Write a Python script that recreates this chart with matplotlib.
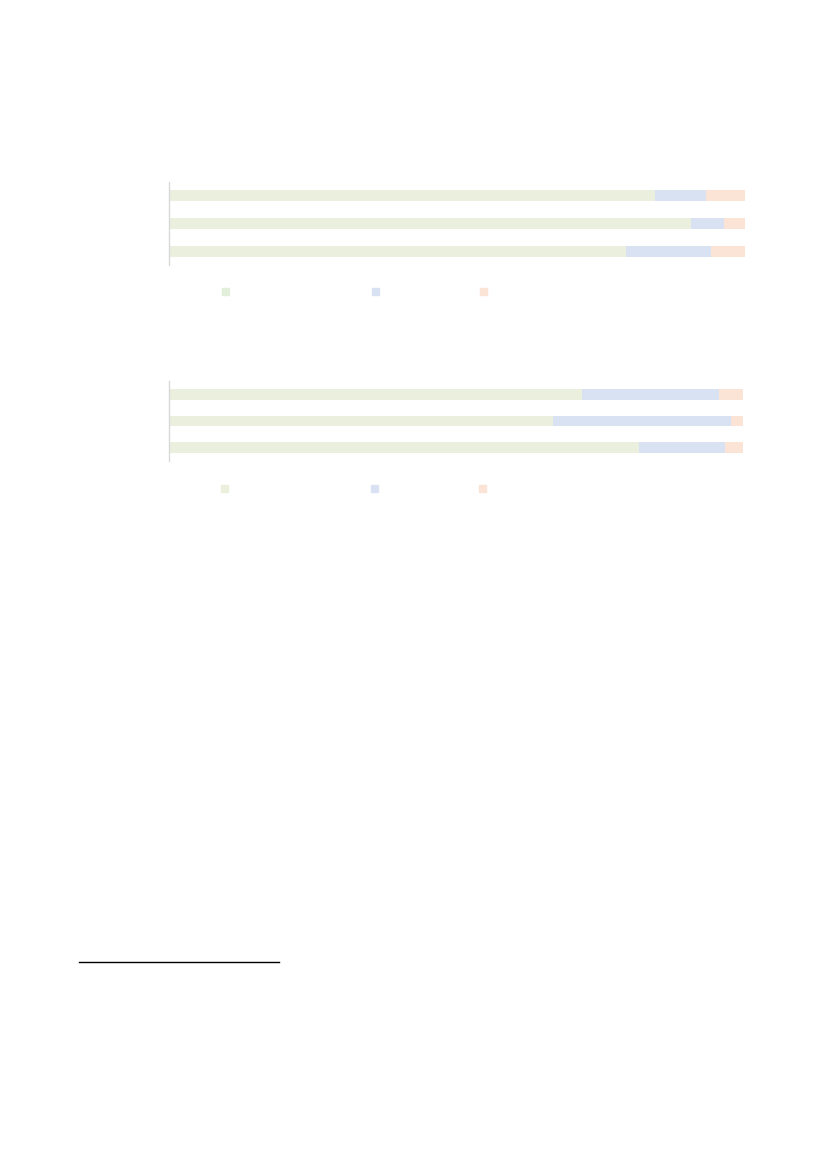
import matplotlib
matplotlib.use("Agg")
import matplotlib.pyplot as plt
from matplotlib.patches import Rectangle
from matplotlib.lines import Line2D

W, H = 829, 1167

# data (percent shares, top bar first)
cats = ["a", "b", "c"]
top_green = [84.4, 90.6, 79.4]
top_blue = [8.8, 5.7, 14.7]
top_orange = [6.8, 3.7, 5.9]

bot_green = [72.0, 66.9, 81.9]
bot_blue = [23.8, 31.0, 15.0]
bot_orange = [4.2, 2.1, 3.1]

green = "#ebf0de"
blue = "#d9e2f3"
orange = "#fbe3d5"
green_leg = "#e2efda"

fig = plt.figure(figsize=(W / 100, H / 100), dpi=100)


def px_axes(x0, x1, y0, y1):
    # pixel box (top-left origin) -> figure axes
    return fig.add_axes([x0 / W, 1 - y1 / H, (x1 - x0) / W, (y1 - y0) / H])


def stacked(ax, g, b, o, height):
    pos = list(range(len(cats)))
    ax.barh(pos, g, height=height, color=green)
    left = [gg for gg in g]
    ax.barh(pos, b, left=left, height=height, color=blue)
    left = [gg + bb for gg, bb in zip(g, b)]
    ax.barh(pos, o, left=left, height=height, color=orange)
    ax.set_xlim(0, 100)
    ax.set_ylim(len(cats) - 0.5, -0.5)
    for s in ["top", "right", "bottom"]:
        ax.spines[s].set_visible(False)
    ax.spines["left"].set_color("#d9d9d9")
    ax.spines["left"].set_linewidth(1.0)
    ax.set_xticks([])
    ax.set_yticks([])
    ax.patch.set_alpha(0)


ax1 = px_axes(169, 745, 182, 265)
stacked(ax1, top_green, top_blue, top_orange, 0.4)

ax2 = px_axes(169, 743, 381, 461)
stacked(ax2, bot_green, bot_blue, bot_orange, 0.41)

# legend swatches (labels not shown in the reference)
leg_x1 = [222, 372, 480]
leg_x2 = [221, 371, 479]
for x, c in zip(leg_x1, [green_leg, blue, orange]):
    fig.patches.append(Rectangle((x / W, 1 - 295 / H), 7 / W, 7 / H,
                                 transform=fig.transFigure, color=c))
for x, c in zip(leg_x2, [green, blue, orange]):
    fig.patches.append(Rectangle((x / W, 1 - 491.5 / H), 7 / W, 7 / H,
                                 transform=fig.transFigure, color=c))

# footnote rule
fig.add_artist(Line2D([79 / W, 279 / W], [1 - 962 / H, 1 - 962 / H],
                      color="black", linewidth=1.0))

fig.savefig("out.png", dpi=100, facecolor="white")
